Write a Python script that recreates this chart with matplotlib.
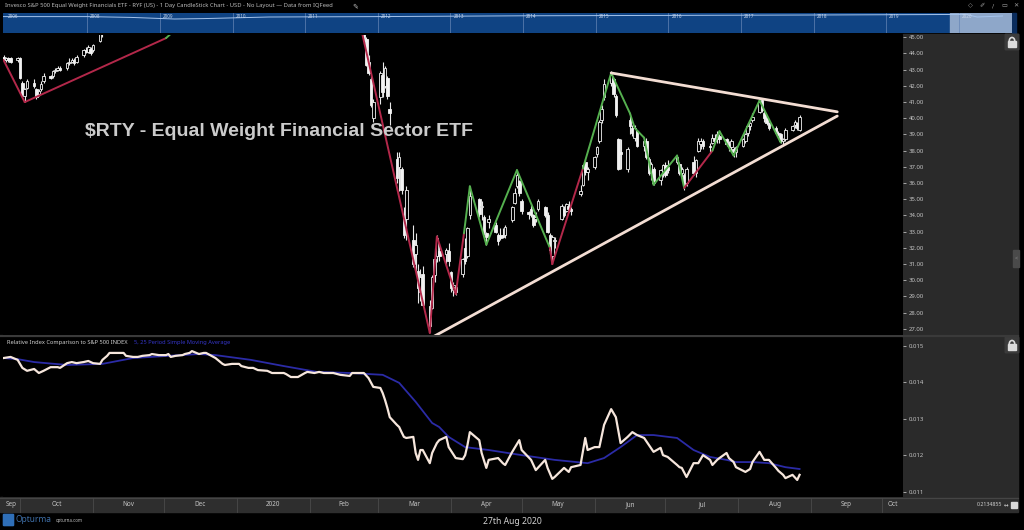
import matplotlib
matplotlib.use("Agg")
import matplotlib.pyplot as plt
import matplotlib.dates as mdates
from matplotlib.patches import Rectangle, FancyBboxPatch, Arc
import pandas as pd

plt.rcParams['font.family'] = ['Noto Sans', 'DejaVu Sans']

# ---------------------------------------------------------------- data
# daily candles, Sep 24 - Nov 5 2019 (visible part at top-left)
c19_start, c19_end = '2019-09-24', '2019-11-05'
o19 = [43.8, 43.6, 43.7, 43.7, 43.6,
       43.7, 42.2, 41.4, 41.9, 42.2, 41.8, 41.5, 41.8, 42.3, 42.6, 42.6, 42.9, 43.0, 43.1, 43.1, 43.4, 43.5, 43.6, 43.5, 43.9, 44.2, 44.1, 44.3,
       44.2, 44.8, 45.2]
h19 = [43.9, 43.8, 43.8, 43.8, 43.8,
       43.8, 42.3, 41.9, 42.4, 42.4, 41.9, 41.8, 42.3, 42.8, 42.7, 43.0, 43.1, 43.2, 43.2, 43.5, 43.7, 43.7, 43.7, 43.9, 44.3, 44.4, 44.5, 44.4,
       44.6, 45.3, 45.4]
l19 = [43.5, 43.5, 43.5, 43.4, 43.5,
       42.4, 41.3, 41.0, 41.8, 41.9, 41.2, 41.4, 41.7, 42.2, 42.4, 42.5, 42.8, 42.9, 42.9, 43.0, 43.3, 43.4, 43.3, 43.4, 43.8, 44.0, 44.0, 43.9,
       44.1, 44.7, 45.0]
cl19 = [43.6, 43.7, 43.6, 43.5, 43.7,
        42.5, 41.5, 41.8, 42.3, 42.0, 41.3, 41.7, 42.1, 42.6, 42.5, 42.9, 43.0, 43.1, 43.0, 43.4, 43.5, 43.6, 43.4, 43.8, 44.2, 44.1, 44.4, 44.0,
        44.5, 45.2, 45.3]

# daily candles, Feb 24 - Aug 27 2020
c20_start, c20_end = '2020-02-24', '2020-08-27'
c20_holidays = ['2020-04-10', '2020-05-25', '2020-07-03']
o20 = [45.6, 44.9, 43.5, 42.4, 40.0,
       41.3, 42.7, 42.0, 42.5, 40.6, 37.5, 37.0, 36.9, 33.9, 33.8, 32.5, 31.6, 30.6, 29.3, 30.4, 28.4, 28.3, 30.3, 31.5, 31.8, 31.6, 31.8,
       30.5, 29.4, 29.6, 30.4, 32.0, 31.5, 34.0, 35.0, 34.5, 33.9, 32.9, 33.6, 33.4, 32.8, 32.8, 32.8, 32.8, 33.7, 34.8, 35.8, 36.1,
       34.9, 34.2, 34.4, 34.0, 33.8, 34.4, 34.5, 34.0, 32.8, 31.5, 32.4, 33.8, 34.4, 34.3, 34.6, 34.4, 35.3, 35.9, 37.3, 36.7,
       37.0, 37.8, 38.6, 39.9, 41.3, 42.2, 42.4, 41.4, 38.7, 37.9, 36.9, 39.9, 39.4, 38.8, 39.2, 38.3, 38.6, 37.5, 36.6, 36.9, 36.2, 36.7,
       37.1, 37.0, 37.3, 37.2, 36.6, 36.5, 36.0, 37.3, 36.6, 38.0, 38.4, 38.6, 38.3, 38.5, 38.8, 38.7, 38.9, 38.7, 38.4, 38.2, 38.1, 37.9,
       38.3, 38.6, 39.1, 39.5, 39.9, 40.4, 41.1, 40.3, 40.0, 39.7, 39.4, 39.1, 39.0, 38.6, 38.7, 39.3, 39.6, 39.7, 39.3]
h20 = [45.7, 45.0, 43.9, 42.6, 41.2,
       42.9, 43.5, 43.2, 42.6, 41.0, 37.9, 37.9, 37.0, 34.5, 35.8, 33.4, 32.9, 31.0, 30.7, 30.9, 28.8, 30.3, 32.0, 32.8, 32.3, 32.0, 32.3,
       30.6, 29.9, 29.7, 31.4, 32.6, 33.3, 35.8, 35.1, 34.9, 34.0, 33.0, 34.0, 33.6, 32.9, 33.2, 33.2, 33.4, 34.6, 35.7, 36.8, 36.2,
       35.0, 34.3, 34.8, 34.1, 34.2, 35.0, 34.6, 34.2, 32.9, 32.8, 32.7, 34.7, 34.6, 34.8, 34.9, 34.5, 35.9, 37.2, 37.5, 37.0,
       37.7, 38.3, 39.9, 40.8, 42.4, 42.9, 42.5, 41.5, 38.8, 38.7, 38.2, 40.3, 39.6, 39.6, 39.3, 38.8, 38.8, 37.6, 37.3, 37.0, 36.9, 37.2,
       37.3, 37.4, 37.7, 37.3, 37.0, 36.6, 37.0, 37.7, 37.5, 38.8, 38.8, 38.7, 38.5, 39.0, 39.0, 39.2, 39.0, 38.8, 38.6, 38.7, 38.2, 38.3,
       38.8, 39.1, 39.7, 39.8, 40.3, 41.1, 41.2, 40.5, 40.1, 39.8, 39.5, 39.2, 39.1, 38.8, 39.4, 39.6, 39.9, 39.8, 40.2]
l20 = [44.6, 43.2, 42.7, 40.7, 39.8,
       40.9, 41.3, 41.9, 41.2, 39.6, 36.0, 35.5, 35.3, 32.6, 32.5, 30.8, 30.6, 28.6, 28.7, 28.4, 26.8, 28.2, 29.9, 31.1, 31.2, 30.9, 30.9,
       29.3, 29.0, 29.1, 30.2, 31.0, 31.4, 33.8, 33.9, 33.7, 32.8, 32.2, 33.2, 32.9, 32.2, 32.5, 32.6, 32.6, 33.6, 34.7, 35.7, 35.2,
       34.1, 33.8, 33.9, 33.3, 33.6, 34.3, 33.9, 32.9, 31.6, 31.0, 32.0, 33.7, 33.9, 34.2, 34.2, 34.0, 35.2, 35.8, 36.5, 36.2,
       36.9, 37.6, 38.5, 39.7, 41.1, 42.0, 41.3, 40.1, 36.8, 36.9, 36.7, 39.0, 38.9, 38.6, 38.2, 38.0, 37.5, 36.5, 36.2, 35.9, 35.9, 36.4,
       36.4, 36.6, 37.2, 36.5, 36.4, 35.6, 35.8, 36.5, 36.4, 37.9, 38.1, 38.1, 37.9, 38.4, 38.5, 38.5, 38.5, 38.3, 38.0, 38.0, 37.6, 37.6,
       38.2, 38.5, 38.9, 39.3, 39.8, 40.3, 40.4, 39.8, 39.6, 39.3, 39.0, 38.9, 38.5, 38.4, 38.6, 39.2, 39.4, 39.3, 39.2]
cl20 = [44.8, 43.3, 42.8, 40.8, 41.0,
        42.8, 41.6, 43.1, 41.4, 40.3, 36.3, 37.6, 35.6, 32.8, 35.6, 31.0, 32.2, 29.5, 30.2, 28.5, 27.2, 30.2, 31.3, 32.6, 31.5, 31.9, 31.2,
        29.5, 29.7, 29.3, 31.3, 31.2, 33.2, 35.2, 34.1, 34.6, 33.0, 32.7, 33.8, 33.0, 32.4, 32.6, 32.7, 33.3, 34.5, 35.4, 36.5, 35.4,
        34.3, 34.1, 34.0, 33.4, 33.9, 34.9, 34.0, 33.0, 31.9, 32.7, 32.5, 34.6, 34.0, 34.7, 34.4, 34.3, 35.5, 37.1, 36.7, 36.9,
        37.6, 38.2, 39.8, 40.6, 42.1, 42.7, 41.5, 40.2, 36.9, 37.8, 38.1, 39.5, 39.1, 39.4, 38.3, 38.6, 37.6, 36.6, 37.2, 36.0, 36.8, 37.1,
        36.5, 36.8, 37.6, 36.6, 36.9, 35.9, 36.9, 36.6, 37.4, 38.6, 38.6, 38.3, 38.2, 38.8, 38.6, 39.0, 38.7, 38.4, 38.2, 38.6, 37.9, 38.2,
        38.7, 39.0, 39.5, 39.7, 40.1, 41.0, 40.5, 40.0, 39.7, 39.4, 39.1, 39.0, 38.6, 38.7, 39.3, 39.5, 39.8, 39.4, 40.1]

# zig-zag swing lines
zz19_dates = ['2019-09-24', '2019-10-03', '2019-12-02', '2019-12-20']
zz19_prices = [43.6, 41.0, 44.95, 47.3]
zz19_trend = ['bear', 'bear', 'bull']
zz20_dates = ['2020-02-19', '2020-03-23', '2020-03-26', '2020-04-03', '2020-04-06T12:00', '2020-04-09',
              '2020-04-16', '2020-04-29', '2020-05-13', '2020-05-14', '2020-05-27', '2020-06-08',
              '2020-06-16', '2020-06-18', '2020-06-22', '2020-06-26', '2020-07-06', '2020-07-09',
              '2020-07-21', '2020-07-24', '2020-07-30', '2020-08-10', '2020-08-19']
zz20_prices = [48.0, 26.75, 32.7, 29.15, 32.9, 35.8,
               32.2, 36.8, 32.0, 31.0, 36.9, 42.8,
               40.3, 39.4, 38.8, 35.9, 37.7, 35.7,
               38.0, 39.2, 37.7, 41.1, 38.5]
zz20_trend = ['bear', 'bear', 'bear', 'bear', 'bull',
              'bull', 'bull', 'bull', 'bear', 'bear', 'bull',
              'bull', 'bull', 'bull', 'bull', 'bull', 'bull',
              'bear', 'bull', 'bull', 'bull', 'bull']

# triangle trend lines
upper_dates = ['2020-06-08', '2020-09-12']
upper_prices = [42.8, 40.4]
lower_dates = ['2020-03-23', '2020-09-12']
lower_prices = [26.4, 40.14]

# relative index vs S&P 500
rel_dates = ['2019-09-24', '2019-09-27', '2019-09-30', '2019-10-02', '2019-10-04', '2019-10-07', '2019-10-09', '2019-10-11',
             '2019-10-14', '2019-10-17', '2019-10-18', '2019-10-21', '2019-10-23', '2019-10-25', '2019-10-28', '2019-10-30',
             '2019-11-01', '2019-11-04', '2019-11-05', '2019-11-07', '2019-11-08', '2019-11-12', '2019-11-14', '2019-11-15',
             '2019-11-18', '2019-11-20', '2019-11-22', '2019-11-25', '2019-11-26', '2019-11-29', '2019-12-02', '2019-12-03',
             '2019-12-04', '2019-12-06', '2019-12-09', '2019-12-10', '2019-12-12', '2019-12-13', '2019-12-16', '2019-12-18',
             '2019-12-19', '2019-12-23', '2019-12-26', '2019-12-27', '2019-12-30',
             '2020-01-02', '2020-01-03', '2020-01-06', '2020-01-08', '2020-01-10', '2020-01-14', '2020-01-16', '2020-01-21',
             '2020-01-22', '2020-01-24', '2020-01-27', '2020-01-30', '2020-01-31', '2020-02-03', '2020-02-05', '2020-02-07',
             '2020-02-11', '2020-02-14', '2020-02-18', '2020-02-19', '2020-02-21', '2020-02-24', '2020-02-26', '2020-02-28',
             '2020-03-02', '2020-03-03', '2020-03-04', '2020-03-05', '2020-03-06', '2020-03-09', '2020-03-10', '2020-03-11',
             '2020-03-12', '2020-03-13', '2020-03-16', '2020-03-17', '2020-03-18', '2020-03-19', '2020-03-20', '2020-03-23',
             '2020-03-24', '2020-03-26', '2020-03-27', '2020-03-30', '2020-03-31',
             '2020-04-03', '2020-04-06', '2020-04-07', '2020-04-08', '2020-04-09', '2020-04-13', '2020-04-14', '2020-04-16',
             '2020-04-17', '2020-04-21', '2020-04-23', '2020-04-24', '2020-04-27', '2020-04-30', '2020-05-01', '2020-05-05',
             '2020-05-07', '2020-05-11', '2020-05-12', '2020-05-14', '2020-05-15', '2020-05-19', '2020-05-21', '2020-05-22',
             '2020-05-26', '2020-05-28', '2020-05-29', '2020-06-01', '2020-06-03', '2020-06-05', '2020-06-08', '2020-06-10',
             '2020-06-11', '2020-06-12', '2020-06-15', '2020-06-17', '2020-06-19', '2020-06-22', '2020-06-24', '2020-06-26',
             '2020-06-29', '2020-06-30', '2020-07-02', '2020-07-06', '2020-07-07', '2020-07-08', '2020-07-10', '2020-07-13',
             '2020-07-15', '2020-07-17', '2020-07-20', '2020-07-21', '2020-07-23', '2020-07-24', '2020-07-27', '2020-07-28',
             '2020-07-30', '2020-07-31', '2020-08-04', '2020-08-06', '2020-08-07', '2020-08-10', '2020-08-12', '2020-08-14',
             '2020-08-17', '2020-08-18', '2020-08-20', '2020-08-21', '2020-08-24', '2020-08-26', '2020-08-27']
rel_values = [0.01467, 0.01470, 0.01462, 0.01440, 0.01432, 0.01437, 0.01426, 0.01432,
              0.01442, 0.01442, 0.01440, 0.01453, 0.01456, 0.01453, 0.01456, 0.01459,
              0.01453, 0.01451, 0.01462, 0.01473, 0.01481, 0.01481, 0.01481, 0.01473,
              0.01470, 0.01470, 0.01473, 0.01475, 0.01478, 0.01475, 0.01475, 0.01478,
              0.01470, 0.01473, 0.01475, 0.01478, 0.01481, 0.01486, 0.01478, 0.01481,
              0.01481, 0.01467, 0.01451, 0.01448, 0.01451,
              0.01451, 0.01445, 0.01440, 0.01440, 0.01434, 0.01432, 0.01426, 0.01426,
              0.01423, 0.01415, 0.01415, 0.01426, 0.01429, 0.01426, 0.01429, 0.01426,
              0.01426, 0.01421, 0.01418, 0.01426, 0.01426, 0.01426, 0.01412, 0.01388,
              0.01385, 0.01371, 0.01352, 0.01330, 0.01305, 0.01284, 0.01278, 0.01264,
              0.01251, 0.01248, 0.01251, 0.01207, 0.01188, 0.01215, 0.01215, 0.01179,
              0.01207, 0.01234, 0.01242, 0.01251, 0.01223,
              0.01193, 0.01190, 0.01201, 0.01229, 0.01264, 0.01242, 0.01207, 0.01166,
              0.01188, 0.01193, 0.01179, 0.01174, 0.01210, 0.01242, 0.01215, 0.01188,
              0.01160, 0.01188, 0.01166, 0.01136, 0.01141, 0.01166, 0.01155, 0.01168,
              0.01174, 0.01248, 0.01215, 0.01223, 0.01223, 0.01284, 0.01327, 0.01305,
              0.01270, 0.01234, 0.01251, 0.01264, 0.01256, 0.01248, 0.01229, 0.01210,
              0.01221, 0.01201, 0.01196, 0.01174, 0.01168, 0.01166, 0.01141, 0.01179,
              0.01179, 0.01201, 0.01188, 0.01174, 0.01188, 0.01193, 0.01207, 0.01193,
              0.01182, 0.01168, 0.01155, 0.01163, 0.01182, 0.01210, 0.01188, 0.01188,
              0.01166, 0.01158, 0.01147, 0.01138, 0.01147, 0.01133, 0.01147]

# moving average of the relative index
ma_dates = ['2019-09-24', '2019-09-30', '2019-10-07', '2019-10-21', '2019-11-05', '2019-11-18', '2019-12-03', '2019-12-16',
            '2019-12-23', '2020-01-07', '2020-01-21', '2020-02-04', '2020-02-18', '2020-03-03', '2020-03-10', '2020-03-17',
            '2020-03-24', '2020-03-27', '2020-03-31', '2020-04-07', '2020-04-17', '2020-05-01', '2020-05-15', '2020-05-29',
            '2020-06-05', '2020-06-12', '2020-06-19', '2020-06-26', '2020-07-06', '2020-07-13', '2020-07-20', '2020-07-27',
            '2020-07-31', '2020-08-07', '2020-08-14', '2020-08-21', '2020-08-27']
ma_values = [0.01467, 0.01464, 0.01456, 0.01448, 0.01451, 0.01467, 0.01473, 0.01478,
             0.01475, 0.01462, 0.01445, 0.01429, 0.01426, 0.01421, 0.01399, 0.01347,
             0.01289, 0.01278, 0.01251, 0.01223, 0.01215, 0.01201, 0.01188, 0.01179,
             0.01193, 0.01223, 0.01256, 0.01256, 0.01248, 0.01215, 0.01196, 0.01188,
             0.01182, 0.01182, 0.01179, 0.01168, 0.01163]

price_ticks = [27, 28, 29, 30, 31, 32, 33, 34, 35, 36, 37, 38, 39, 40, 41, 42, 43, 44, 45]
rel_ticks = [0.011, 0.012, 0.013, 0.014, 0.015]
rel_tick_labels = ['0.011', '0.012', '0.013', '0.014', '0.015']
month_labels = ['Sep', 'Oct', 'Nov', 'Dec', '2020', 'Feb', 'Mar', 'Apr', 'May', 'Jun', 'Jul', 'Aug', 'Sep', 'Oct']
nav_years = [2008, 2009, 2010, 2011, 2012, 2013, 2014, 2015, 2016, 2017, 2018, 2019, 2020]
nav_hist_year = [2006.84, 2008.0, 2008.6, 2009.2, 2009.6, 2010.5, 2012.0, 2014.0, 2016.0, 2018.0, 2019.5, 2020.1, 2020.25, 2020.6]
nav_hist_level = [0.82, 0.82, 0.78, 0.70, 0.72, 0.80, 0.82, 0.86, 0.88, 0.90, 0.92, 0.93, 0.80, 0.85]

title_text = "Invesco S&P 500 Equal Weight Financials ETF - RYF (US) - 1 Day CandleStick Chart - USD - No Layout \u2014 Data from IQFeed"
chart_label = "$RTY - Equal Weight Financial Sector ETF"
lower_title = "Relative Index Comparison to S&P 500 INDEX"
lower_ma_title = "5, 25 Period Simple Moving Average"
footer_date = "27th Aug 2020"

# ---------------------------------------------------------------- layout
W, H = 1024, 530
fig = plt.figure(figsize=(W / 100, H / 100), dpi=100)
fig.patch.set_facecolor('black')


def rect(x0, y0, x1, y1):
    return [x0 / W, 1 - y1 / H, (x1 - x0) / W, (y1 - y0) / H]


def dnum(strings):
    return mdates.date2num(pd.to_datetime(strings, format='ISO8601'))


BULL, BEAR = '#55b04f', '#b3284a'
TXT = '#c4c4c4'

bg = fig.add_axes([0, 0, 1, 1], zorder=-10)
bg.set_xlim(0, W)
bg.set_ylim(H, 0)
bg.axis('off')
bg.add_patch(Rectangle((0, 0), W, H, color='black'))
bg.add_patch(Rectangle((903, 34), 115, 463, color='#2a2a2a'))
bg.add_patch(Rectangle((0, 497), 1018, 15, color='#2e2e2e'))
bg.plot([0, 1018], [336, 336], color='#3a3a3a', lw=1.6)
bg.plot([0, 1018], [497.5, 497.5], color='#454545', lw=0.8)

# transparent overlay for texts that sit on top of the panels
fg = fig.add_axes([0, 0, 1, 1], zorder=10)
fg.set_xlim(0, W)
fg.set_ylim(H, 0)
fg.axis('off')
fg.patch.set_alpha(0)

PX_PER_DAY = (882 - 20) / 366
ref = mdates.date2num(pd.Timestamp('2019-10-01'))
x_left = ref - (20 - 3) / PX_PER_DAY
x_right = ref + (903 - 20) / PX_PER_DAY


def to_px(num):
    return 3 + (num - x_left) * PX_PER_DAY


# ---------------------------------------------------------------- main price panel
ax = fig.add_axes(rect(3, 35, 903, 335))
ax.set_facecolor('black')
ax.set_xlim(x_left, x_right)
ax.set_ylim(26.623, 45.142)
for s in ax.spines.values():
    s.set_visible(False)
ax.set_yticks(price_ticks)
ax.set_yticklabels(['%.2f' % v for v in price_ticks])
ax.tick_params(axis='y', left=False, labelleft=False, right=True, labelright=True,
               length=2.5, width=0.6, color='#bbbbbb', labelcolor=TXT, labelsize=4.3, pad=1.5)
ax.tick_params(axis='x', bottom=False, labelbottom=False)


def draw_candles(dates, o, h, l, c):
    x = mdates.date2num(dates)
    n = min(len(x), len(o), len(h), len(l), len(c))
    x, o, h, l, c = x[:n], o[:n], h[:n], l[:n], c[:n]
    ax.vlines(x, l, h, color='#e8e8e8', lw=0.8, zorder=2)
    bottoms = [min(a, b) for a, b in zip(o, c)]
    heights = [max(abs(b - a), 0.07) for a, b in zip(o, c)]
    faces = ['black' if b >= a else '#f2f2f2' for a, b in zip(o, c)]
    ax.bar(x, heights, width=1.1, bottom=bottoms, color=faces, edgecolor='#f2f2f2', lw=0.6, zorder=3)


d19 = pd.bdate_range(c19_start, c19_end)
d20 = pd.bdate_range(c20_start, c20_end).drop(pd.to_datetime(c20_holidays))
draw_candles(d19, o19, h19, l19, cl19)
draw_candles(d20, o20, h20, l20, cl20)


def draw_zigzag(dates, prices, trend):
    x = dnum(dates)
    for i, t in enumerate(trend):
        ax.plot(x[i:i + 2], prices[i:i + 2], color=BULL if t == 'bull' else BEAR,
                lw=1.4, zorder=4, solid_capstyle='round')


draw_zigzag(zz19_dates, zz19_prices, zz19_trend)
draw_zigzag(zz20_dates, zz20_prices, zz20_trend)

for dts, prs in [(upper_dates, upper_prices), (lower_dates, lower_prices)]:
    ax.plot(dnum(dts), prs, color='#f3ddd3', lw=2.0, zorder=5, solid_capstyle='round')

ax.text((85 - 3) / 900, 1 - (132 - 35) / 300, chart_label, transform=ax.transAxes,
        family='Liberation Sans', fontweight='bold', fontsize=14, color='#cbcbcb',
        va='center', ha='left', zorder=6)

# ---------------------------------------------------------------- relative index panel
ax2 = fig.add_axes(rect(3, 338, 903, 497))
ax2.set_facecolor('black')
ax2.set_xlim(x_left, x_right)
ax2.set_ylim(0.010863, 0.015219)
for s in ax2.spines.values():
    s.set_visible(False)
ax2.set_yticks(rel_ticks)
ax2.set_yticklabels(rel_tick_labels)
ax2.tick_params(axis='y', left=False, labelleft=False, right=True, labelright=True,
                length=2.5, width=0.6, color='#bbbbbb', labelcolor=TXT, labelsize=4.3, pad=1.5)
ax2.tick_params(axis='x', bottom=False, labelbottom=False)
ax2.plot(dnum(ma_dates), ma_values, color='#2b2ba6', lw=1.3, zorder=2)
ax2.plot(dnum(rel_dates), rel_values, color='#f6e6dc', lw=1.6, zorder=3)

fg.text(7, 342.5, lower_title, fontsize=4.1, color='#cfcfcf', va='center', ha='left')
fg.text(134, 342.5, lower_ma_title, fontsize=4.1, color='#3535c8', va='center', ha='left')

# ---------------------------------------------------------------- date strip
bounds = pd.date_range('2019-09-01', '2020-11-01', freq='MS')
bnum = mdates.date2num(bounds)
for i, lab in enumerate(month_labels):
    a = max(bnum[i], x_left)
    b = min(bnum[i + 1], x_right)
    if b <= a:
        continue
    bg.text(to_px((a + b) / 2), 504.8, lab, fontsize=4.6, color=TXT, ha='center', va='center')
for bn in bnum:
    if x_left < bn < x_right:
        bg.plot([to_px(bn)] * 2, [497.5, 512], color='#4a4a4a', lw=0.6)
bg.text(977, 505, "0.2134855", fontsize=3.8, color='#cfcfcf', ha='left', va='center')
bg.text(1006, 505, "\u2194", fontsize=4, color='#cfcfcf', ha='center', va='center', family='DejaVu Sans')
bg.add_patch(Rectangle((1011, 502), 6, 6, color='#d8d8d8'))

# ---------------------------------------------------------------- navigator band
nav = fig.add_axes(rect(3, 13, 1012, 33))
nav.set_xlim(2006.84, 2020.73)
nav.set_ylim(0, 1)
nav.axis('off')
nav.add_patch(Rectangle((2006.84, 0), 2020.73 - 2006.84, 1, color='#0f4383', zorder=0))
nav.axvspan(2019.87, 2020.73, color='#8ea7c9', zorder=1)
for yr in nav_years:
    nav.axvline(yr, color='#6585b5', lw=0.5, zorder=2)
    nav.text(yr + 0.04, 0.84, str(yr), fontsize=3.3, color='#c9d6ea', va='center', ha='left', zorder=3)
nav.text(2006.9, 0.84, '2006', fontsize=3.3, color='#c9d6ea', va='center', ha='left', zorder=3)
nav.plot(nav_hist_year, nav_hist_level, color='#a5c4ec', lw=0.7, zorder=2)
bg.add_patch(Rectangle((1012, 13), 4, 20, color='#0a2c5c'))

# ---------------------------------------------------------------- header / footer text
bg.text(5, 6, title_text, fontsize=4.2, color='#bcbcbc', ha='left', va='center')
bg.text(352, 6, "\u270e", fontsize=5, color='#bcbcbc', ha='left', va='center', family='DejaVu Sans')
for px, ch in [(970, "\u25c7"), (982, "\u2710"), (993, "/"), (1004, "\u25ad"), (1016, "\u2715")]:
    bg.text(px, 5.5, ch, fontsize=4.5, color='#9c9c9c', ha='center', va='center', family='DejaVu Sans')

bg.add_patch(FancyBboxPatch((4, 515), 9, 10, boxstyle='round,pad=0.6', color='#2f6fb8'))
bg.text(16, 520, "Opturma", fontsize=6, color='#3e6ea6', ha='left', va='center')
bg.text(56, 520.5, "opturna.com", fontsize=3.2, color='#bdbdbd', ha='left', va='center')
bg.text(512, 521.5, footer_date, fontsize=6.2, color='#d2d2d2', ha='center', va='center')


# lock icons and collapse tab
def lock(cx, cy):
    bg.add_patch(FancyBboxPatch((cx - 6, cy - 7), 12, 14, boxstyle='round,pad=0.8', color='#3c3c3c'))
    bg.add_patch(Rectangle((cx - 4, cy - 1), 8, 6, color='#dcdcdc'))
    bg.add_patch(Arc((cx, cy - 1), 5.5, 7, theta1=180, theta2=360, color='#dcdcdc', lw=1.2))


lock(1012, 42)
lock(1012, 345)
bg.add_patch(Rectangle((1013, 250), 6, 17, color='#4a4a4a'))
bg.text(1016, 258.5, "<", fontsize=4, color='#8a8a8a', ha='center', va='center')

fig.savefig('out.png', dpi=100, facecolor='black')
